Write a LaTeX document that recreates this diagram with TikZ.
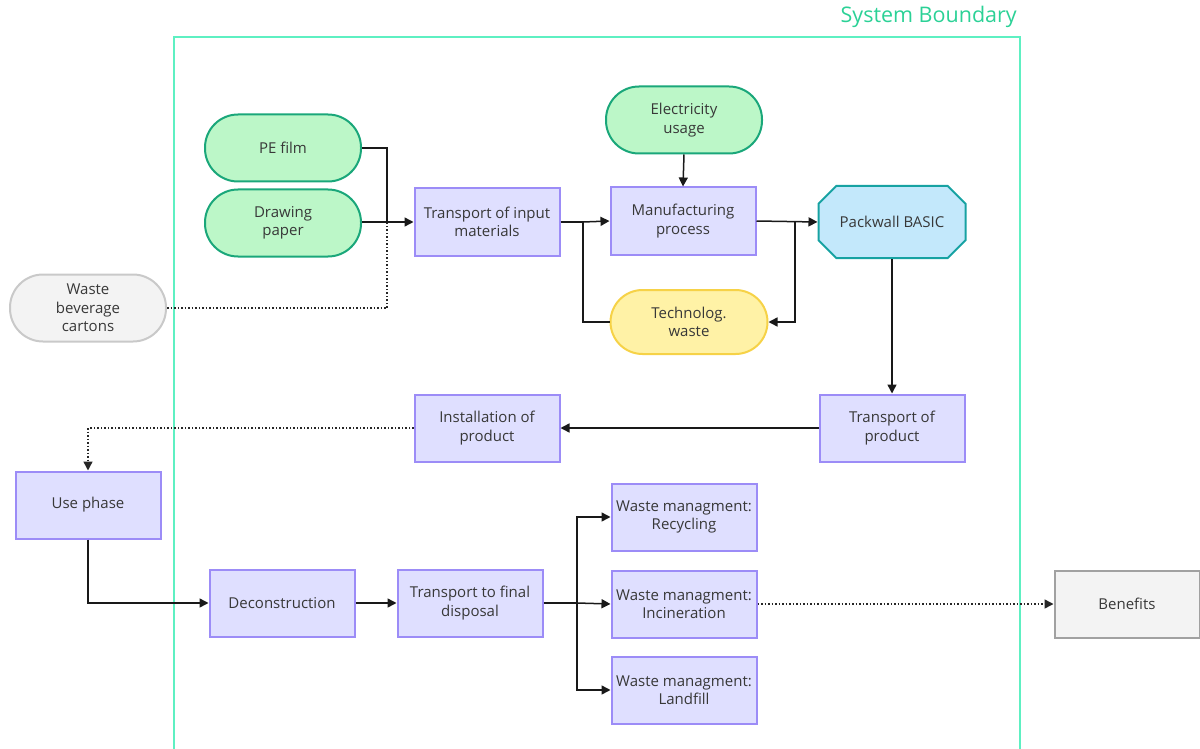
\documentclass[tikz,border=0pt]{standalone}
\usepackage{fontspec}
\setmainfont{Open Sans}
\usetikzlibrary{shapes.misc,arrows.meta}
\definecolor{bnd}{HTML}{5EF0C2}
\definecolor{bndtxt}{HTML}{2BD196}
\definecolor{grnfill}{HTML}{BCF7C8}
\definecolor{grnline}{HTML}{1AA77A}
\definecolor{purfill}{HTML}{DFDFFF}
\definecolor{purline}{HTML}{9C8CF7}
\definecolor{yelfill}{HTML}{FFF2A6}
\definecolor{yelline}{HTML}{F6D247}
\definecolor{bluefill}{HTML}{C3E8FB}
\definecolor{blueline}{HTML}{17A2A2}
\definecolor{greyfill}{HTML}{F3F3F3}
\definecolor{greyline}{HTML}{C9C9C9}
\definecolor{txt}{HTML}{383838}
\tikzset{
  base/.style={font=\fontsize{15}{18.5}\selectfont, text=txt, align=center, line width=2pt},
  proc/.style={base, rectangle, draw=purline, fill=purfill, minimum width=145, minimum height=67},
  inp/.style={base, rectangle, rounded corners=33, draw=grnline, fill=grnfill, minimum width=156, minimum height=67},
  wst/.style={base, rectangle, rounded corners=32, draw=yelline, fill=yelfill, minimum width=157, minimum height=64},
  ext/.style={base, rectangle, rounded corners=33, draw=greyline, fill=greyfill, minimum width=156, minimum height=67},
  prod/.style={base, chamfered rectangle, chamfered rectangle xsep=12, chamfered rectangle ysep=12, draw=blueline, fill=bluefill, minimum width=147, minimum height=72, inner sep=0},
  ben/.style={base, rectangle, draw=greyline!80!black, fill=greyfill, minimum width=145, minimum height=67},
  conn/.style={line width=1.5pt, black!90},
  arr/.style={conn, -{Triangle[length=9,width=9]}},
  dot/.style={line width=1.5pt, black!85, dotted},
  darr/.style={dot, -{Triangle[length=9,width=9]}}
}
\begin{document}
\begin{tikzpicture}[x=1pt,y=-1pt]
\useasboundingbox (0,0) rectangle (1200,749);
% system boundary
\draw[bnd, line width=2pt] (174,760) -- (174,37) -- (1020,37) -- (1020,760);
\node[anchor=east, text=bndtxt, font=\fontsize{21.5}{24}\selectfont, inner sep=0] (sb) at (1017,17) {System Boundary};

% nodes
\node[inp] (pe) at (283,148) {PE film};
\node[inp] (dp) at (283,223) {Drawing\\paper};
\node[ext] (wbc) at (88,308) {Waste\\beverage\\cartons};
\node[proc] (tim) at (487,222) {Transport of input\\materials};
\node[inp] (el) at (684,120) {Electricity\\usage};
\node[proc] (mp) at (683,221) {Manufacturing\\process};
\node[wst] (tw) at (689,322) {Technolog.\\waste};
\node[prod] (pb) at (892,222) {Packwall BASIC};
\node[proc] (tp) at (892,428) {Transport of\\product};
\node[proc] (ip) at (487,428) {Installation of\\product};
\node[proc] (up) at (88,505) {Use phase};
\node[proc] (dc) at (282,603) {Deconstruction};
\node[proc] (tfd) at (470,603) {Transport to final\\disposal};
\node[proc] (wr) at (684,517) {Waste managment:\\Recycling};
\node[proc] (wi) at (684,604) {Waste managment:\\Incineration};
\node[proc] (wl) at (684,690) {Waste managment:\\Landfill};
\node[ben] (bf) at (1127,604) {Benefits};

% junction coordinates
\coordinate (j1) at (387,222);
\coordinate (j2) at (583,222);
\coordinate (j3) at (795,222);
\coordinate (j4) at (577,603);

% connectors
\draw[conn] (pe.east) -- (387,148) -- (j1);
\draw[dot] (wbc.east) -- (387,308) -- (j1);
\draw[arr] (dp.east |- j1) -- (tim.west);
\draw[conn] (tim.east) -- (j2);
\draw[conn] (tw.west) -- (583,322) -- (j2);
\draw[arr] (j2) -- (mp.west);
\draw[arr] (el.south) -- (mp.north);
\draw[arr] (mp.east) -- (pb.west);
\draw[arr] (j3) -- (795,322) -- (tw.east);
\draw[arr] (pb.south) -- (tp.north);
\draw[arr] (tp.west) -- (ip.east);
\draw[darr] (ip.west) -- (88,428) -- (up.north);
\draw[arr] (up.south) -- (88,603) -- (dc.west);
\draw[arr] (dc.east) -- (tfd.west);
\draw[conn] (tfd.east) -- (j4);
\draw[arr] (j4) -- (577,517) -- (wr.west);
\draw[arr] (j4) -- (wi.west);
\draw[arr] (j4) -- (577,690) -- (wl.west);
\draw[darr] (wi.east) -- (bf.west);
\end{tikzpicture}
\end{document}
